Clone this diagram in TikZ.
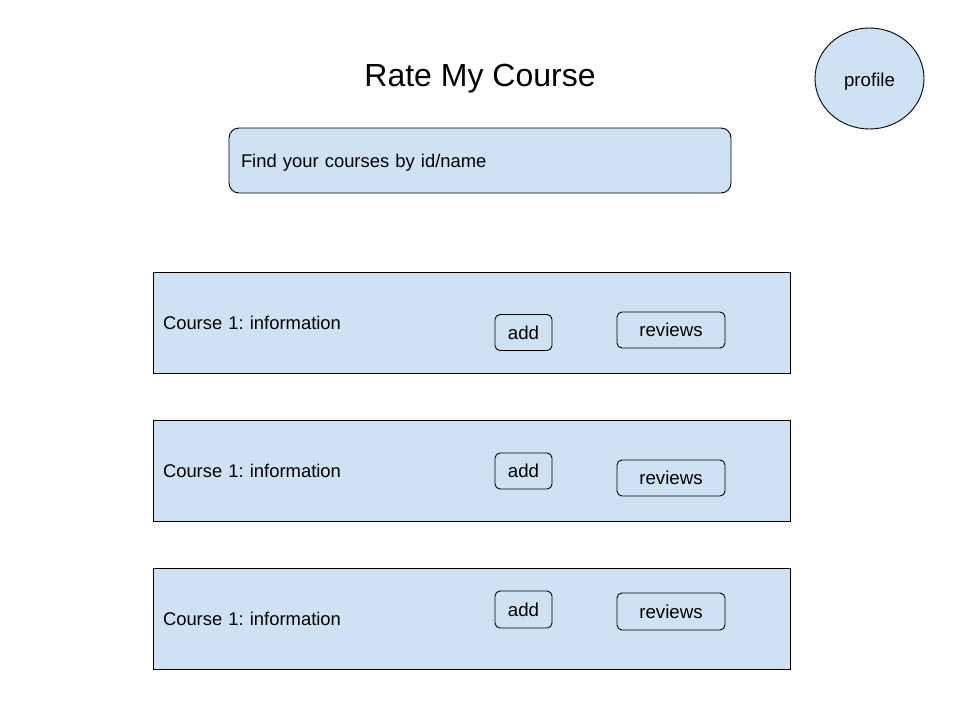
\documentclass[tikz,border=0pt]{standalone}
\usepackage{fontspec}
\setmainfont{Liberation Sans}
\usetikzlibrary{shapes.geometric}
\definecolor{lblue}{HTML}{CFE2F3}
\begin{document}
\frenchspacing
\begin{tikzpicture}[x=1pt,y=-1pt,
  base/.style={draw=black, fill=lblue, line width=0.9pt, font=\fontsize{18.67}{20}\selectfont\frenchspacing, text height=13.4pt, text depth=0pt},
  panel/.style={base, rectangle, inner xsep=10pt, inner ysep=0pt, align=left, font=\fontsize{18.4}{20}\selectfont\frenchspacing},
  btn/.style={base, rectangle, rounded corners=5pt, inner sep=0pt},
  title/.style={font=\fontsize{32}{36}\selectfont, text height=22.9pt, text depth=0pt, inner sep=0pt}
]
\useasboundingbox[fill=white] (0,0) rectangle (960,720);

\node[title] (title) at (480,75) {Rate My Course};
\node[base, ellipse, inner sep=0pt, minimum width=109pt, minimum height=101pt] (profile) at (869.5,78.5) {\raisebox{-1pt}{profile}};

\node[panel, rounded corners=10pt, inner xsep=12pt, text width=478pt, minimum height=65pt] (search) at (480,160.5) {Find your courses by id/name};

\node[panel, text width=617pt, minimum height=101pt] (c1) at (471.5,322.5) {Course 1: information};
\node[panel, text width=617pt, minimum height=101pt] (c2) at (471.5,470.5) {Course 1: information};
\node[panel, text width=617pt, minimum height=101pt] (c3) at (471.5,618.5) {Course 1: information};

\node[btn, minimum width=57pt, minimum height=36pt] (add1) at (523.5,332.5) {add};
\node[btn, minimum width=57pt, minimum height=36pt] (add2) at (523.5,471) {add};
\node[btn, minimum width=57pt, minimum height=37pt] (add3) at (523.5,609.5) {add};

\node[btn, minimum width=108pt, minimum height=36pt] (rev1) at (671,330) {reviews};
\node[btn, minimum width=108pt, minimum height=36pt] (rev2) at (671,478) {reviews};
\node[btn, minimum width=108pt, minimum height=37pt] (rev3) at (671,611.5) {reviews};
\end{tikzpicture}
\end{document}
